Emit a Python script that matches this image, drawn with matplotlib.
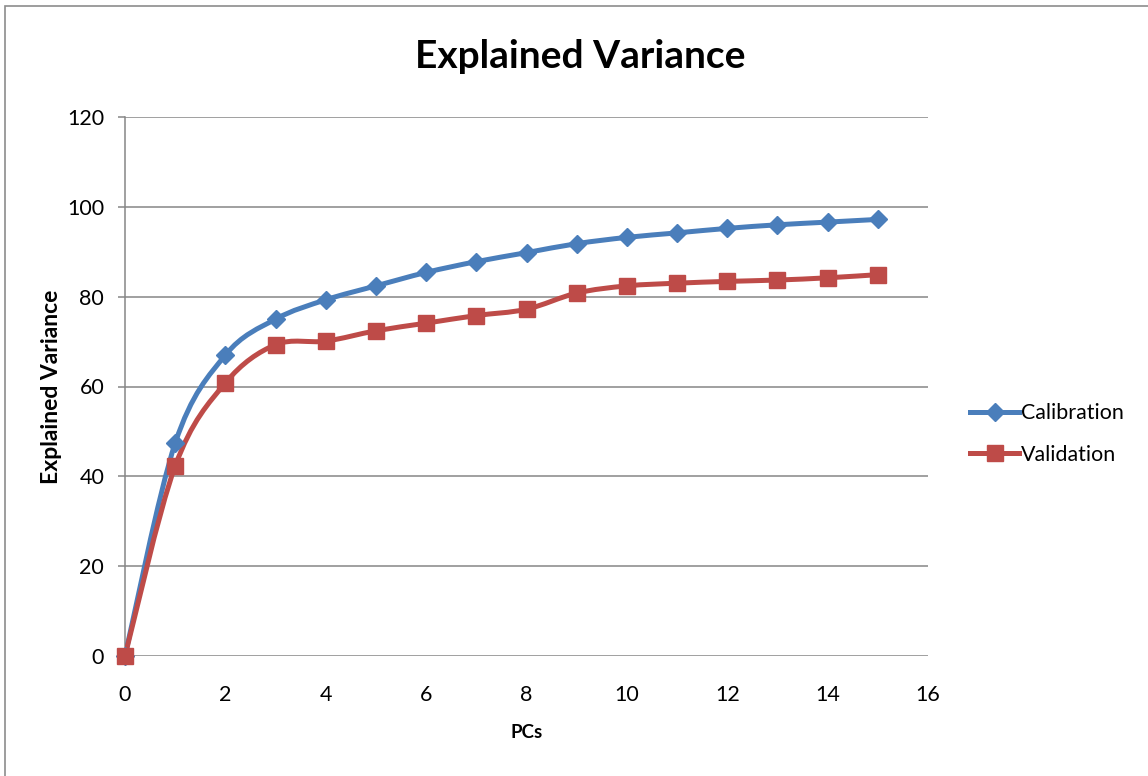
import matplotlib.pyplot as plt
from matplotlib.path import Path
from matplotlib.patches import PathPatch, Rectangle
from matplotlib.lines import Line2D

pcs = list(range(16))
calibration = [0, 47.4, 67.0, 75.0, 79.3, 82.4, 85.4, 87.8, 89.8, 91.8,
               93.2, 94.2, 95.2, 96.0, 96.6, 97.2]
validation = [0, 42.3, 60.8, 69.3, 70.1, 72.4, 74.1, 75.8, 77.2, 80.8,
              82.4, 83.0, 83.4, 83.7, 84.2, 84.9]

BLUE = "#4A7EBB"
RED = "#BE4B48"
GRID = "#868686"

plt.rcParams["font.family"] = ["Lato", "DejaVu Sans"]


def smooth_path(x, y):
    """Catmull-Rom style bezier path through the points (like Excel smoothed lines)."""
    verts = [(x[0], y[0])]
    codes = [Path.MOVETO]
    n = len(x)
    for i in range(n - 1):
        x0, y0 = (x[i - 1], y[i - 1]) if i > 0 else (x[i], y[i])
        x1, y1 = x[i], y[i]
        x2, y2 = x[i + 1], y[i + 1]
        x3, y3 = (x[i + 2], y[i + 2]) if i + 2 < n else (x2, y2)
        c1 = (x1 + (x2 - x0) / 6, y1 + (y2 - y0) / 6)
        c2 = (x2 - (x3 - x1) / 6, y2 - (y3 - y1) / 6)
        verts += [c1, c2, (x2, y2)]
        codes += [Path.CURVE4] * 3
    return Path(verts, codes)


fig = plt.figure(figsize=(11.48, 7.76), dpi=100)
ax = fig.add_axes([125 / 1148, 1 - 656 / 776, 803 / 1148, 539 / 776])

for series, color, marker, ms in [
    (calibration, BLUE, "D", 9),
    (validation, RED, "s", 11),
]:
    ax.add_patch(PathPatch(smooth_path(pcs, series), facecolor="none",
                           edgecolor=color, lw=3.6, capstyle="round",
                           joinstyle="round", zorder=3))
    ax.plot(pcs, series, linestyle="none", marker=marker, markersize=ms,
            color=color, zorder=4, clip_on=False)

ax.set_xlim(0, 16)
ax.set_ylim(0, 120)
ax.set_xticks(range(0, 17, 2))
ax.set_yticks(range(0, 121, 20))
ax.grid(axis="y", color=GRID, lw=1.1)
ax.set_axisbelow(True)
for side in ["top", "right", "bottom"]:
    ax.spines[side].set_visible(False)
ax.spines["left"].set_color(GRID)
ax.spines["left"].set_linewidth(1.1)
ax.tick_params(axis="y", length=5, color=GRID, width=1.1, pad=10, labelsize=15.5)
ax.tick_params(axis="x", length=0, pad=21, labelsize=15.5)

ax.set_xlabel("PCs", fontsize=13.5, fontweight="bold")
ax.xaxis.set_label_coords(0.5, -0.126)
ax.set_ylabel("Explained Variance", fontsize=16.5, fontweight="bold")
ax.yaxis.set_label_coords(-0.079, 0.5)

fig.text(580 / 1148, 1 - 57 / 776, "Explained Variance", fontsize=28,
         fontweight="bold", ha="center", va="center")

handles = [
    Line2D([], [], color=BLUE, lw=3.6, marker="D", markersize=9),
    Line2D([], [], color=RED, lw=3.6, marker="s", markersize=11),
]
fig.legend(handles, ["Calibration", "Validation"], loc="center left",
           bbox_to_anchor=(970 / 1148, 1 - 434 / 776), frameon=False,
           fontsize=15.4, handlelength=2.3, handletextpad=0.1, labelspacing=1.0,
           borderpad=0, borderaxespad=0)

fig.patches.append(Rectangle((5 / 1148, -0.1), 1.2, 1 - 6 / 776 + 0.1,
                             transform=fig.transFigure, fill=False,
                             edgecolor="#8c8c8c", lw=1.2))

fig.savefig("out.png", dpi=100)
